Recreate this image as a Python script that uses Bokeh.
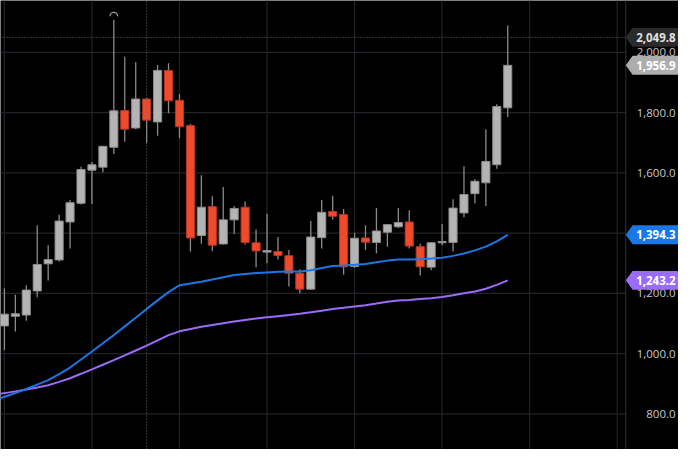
import numpy as np
from bokeh.plotting import figure
from bokeh.models import Range1d, ColumnDataSource
from bokeh.core.properties import value
from bokeh.embed import file_html
from bokeh.resources import INLINE

# ---------------- data ----------------
opens = [1092, 1124, 1128, 1208, 1298, 1311, 1437, 1499, 1609, 1619,
         1685, 1807, 1749, 1845, 1769, 1940, 1841, 1757, 1392, 1488,
         1364, 1444, 1486, 1368, 1337, 1339, 1325, 1267, 1214, 1385,
         1472, 1462, 1289, 1384, 1369, 1403, 1421, 1437, 1355, 1287,
         1368, 1369, 1467, 1531, 1567, 1627, 1816]
highs = [1217, 1195, 1227, 1426, 1360, 1461, 1510, 1620, 1636, 1690,
         2107, 1985, 1967, 1849, 1958, 1964, 1862, 1762, 1592, 1522,
         1553, 1490, 1505, 1412, 1464, 1387, 1344, 1280, 1440, 1510,
         1524, 1480, 1401, 1426, 1483, 1430, 1483, 1476, 1365, 1370,
         1430, 1512, 1622, 1579, 1745, 1828, 2089]
lows = [1012, 1073, 1109, 1187, 1243, 1306, 1349, 1495, 1497, 1602,
        1663, 1703, 1745, 1700, 1723, 1798, 1715, 1339, 1365, 1341,
        1362, 1397, 1362, 1287, 1301, 1312, 1223, 1200, 1212, 1349,
        1445, 1262, 1285, 1344, 1333, 1355, 1417, 1349, 1259, 1277,
        1360, 1339, 1453, 1499, 1490, 1614, 1785]
closes = [1131, 1132, 1211, 1296, 1312, 1440, 1501, 1611, 1627, 1688,
          1806, 1745, 1845, 1775, 1940, 1839, 1753, 1384, 1486, 1360,
          1444, 1482, 1369, 1341, 1342, 1326, 1267, 1214, 1387, 1469,
          1456, 1288, 1383, 1370, 1407, 1428, 1435, 1357, 1288, 1368,
          1372, 1483, 1528, 1572, 1638, 1820, 1956.9]

# moving averages, one value per bar starting one bar before the first visible candle
ma_fast = [844.9, 856.7, 868.9, 882.4, 897.1, 911.9, 932.0, 953.8, 980.4, 1007.1,
           1034.3, 1061.5, 1090.4, 1119.2, 1148.4, 1176.6, 1204.2, 1226.9, 1232.7, 1238.8,
           1246.2, 1253.5, 1261.2, 1264.4, 1267.3, 1269.6, 1271.5, 1272.4, 1272.4, 1276.9,
           1284.0, 1290.7, 1292.6, 1294.9, 1297.8, 1303.2, 1308.7, 1312.2, 1312.2, 1313.5,
           1315.7, 1318.3, 1324.4, 1332.4, 1342.6, 1355.1, 1372.8, 1394.3]
ma_slow = [862.8, 868.9, 874.7, 881.1, 887.8, 894.9, 906.1, 918.3, 933.0, 947.8,
           963.1, 978.5, 994.2, 1010.3, 1026.3, 1044.2, 1061.2, 1074.0, 1081.7, 1089.1,
           1095.2, 1101.0, 1106.7, 1111.5, 1116.3, 1120.8, 1124.4, 1127.9, 1132.1, 1137.2,
           1142.6, 1147.8, 1151.9, 1156.4, 1160.9, 1166.3, 1171.8, 1176.0, 1178.2, 1181.1,
           1184.0, 1187.8, 1193.9, 1200.3, 1206.4, 1215.1, 1228.2, 1243.2]

y_ticks = [800, 1000, 1200, 1400, 1600, 1800, 2000]
y_tick_labels = ["800.0", "1,000.0", "1,200.0", "1,400.0", "1,600.0", "1,800.0", "2,000.0"]
x_grid = [0, 8, 16, 24, 32, 40, 48, 56]
crosshair_bar = 13
crosshair_price = 2049.8

# ---------------- layout (reference pixel geometry) ----------------
REF_W, REF_H = 694, 465
W, H = 678, 449
C0_PX, STEP_PX = 4.0, 11.2          # first candle centre, candle spacing
P_REF, P_REF_PX, PX_PER_UNIT = 2000.0, 53.7, 0.312
PANEL_PX = 640                       # left edge of price-scale panel


def ix(px):
    return (px - C0_PX) / STEP_PX


def pv(py):
    return P_REF - (py - P_REF_PX) / PX_PER_UNIT


def dyp(py):
    return py / PX_PER_UNIT


X0, X1 = ix(0), ix(REF_W)
Y0, Y1 = pv(REF_H), pv(0)
XP = ix(PANEL_PX)

BG = "#000000"
GRID = "#202428"
UP_FILL, UP_LINE = "#b4b4b4", "#8e8e8e"
DN_FILL, DN_LINE = "#f04a2d", "#b53622"
WICK = "#8a8a8a"
FAST = "#1a78e6"
SLOW = "#9b6cfa"
FONT = value("Open Sans")

p = figure(width=W, height=H, x_range=Range1d(X0, X1), y_range=Range1d(Y0, Y1),
           output_backend="svg", toolbar_location=None, x_axis_type=None, y_axis_type=None,
           min_border=0, background_fill_color=BG, border_fill_color=BG,
           outline_line_color=None)
p.xgrid.visible = False if p.xgrid else None
p.ygrid.visible = False if p.ygrid else None

# grid
p.segment(x0=[X0] * len(y_ticks), x1=[XP] * len(y_ticks), y0=y_ticks, y1=y_ticks,
          line_color=GRID, line_width=1.2)
p.segment(x0=x_grid, x1=x_grid, y0=[Y0] * len(x_grid), y1=[Y1] * len(x_grid),
          line_color=GRID, line_width=1.2)

# candles
n = len(opens)
idx = list(range(n))
o = np.array(opens, float)
c = np.array(closes, float)
up = c >= o
src = ColumnDataSource(dict(
    x=idx, high=highs, low=lows,
    top=np.maximum(o, c), bottom=np.minimum(o, c),
    fill=[UP_FILL if u else DN_FILL for u in up],
    line=[UP_LINE if u else DN_LINE for u in up],
))
p.segment(x0="x", x1="x", y0="low", y1="high", source=src, line_color=WICK, line_width=1.3)
p.vbar(x="x", width=0.74, top="top", bottom="bottom", source=src,
       fill_color="fill", line_color="line", line_width=1)

# highest-high marker
imax = int(np.argmax(highs))
p.arc(x=[imax], y=[highs[imax] + dyp(4)], radius=3.8, radius_units="screen",
      start_angle=0, end_angle=np.pi, line_color="#a0a0a0", line_width=1.3)

# moving averages
ma_x = list(range(-1, n))
p.line(ma_x, ma_slow, line_color=SLOW, line_width=2)
p.line(ma_x, ma_fast, line_color=FAST, line_width=2)

# crosshair
p.segment(x0=[crosshair_bar], x1=[crosshair_bar], y0=[Y0], y1=[Y1],
          line_color="#6e6e6e", line_width=1, line_dash="1 2")
p.segment(x0=[X0], x1=[XP], y0=[crosshair_price], y1=[crosshair_price],
          line_color="#6e6e6e", line_width=1, line_dash="1 2")

# price-scale panel border
p.segment(x0=[XP], x1=[XP], y0=[Y0], y1=[Y1], line_color="#262a2e", line_width=1.2)

# price-scale tick labels
p.text(x=[ix(691)] * len(y_ticks), y=y_ticks, text=y_tick_labels,
       text_font=FONT, text_font_size=value("11.5px"), text_color="#c8c8c8",
       text_align=value("right"), text_baseline=value("middle"))

# price tags
tags = [
    (crosshair_price, "#2b2b2b", "#e0e0e0"),
    (closes[-1], "#adadad", "#ffffff"),
    (ma_fast[-1], FAST, "#ffffff"),
    (ma_slow[-1], SLOW, "#ffffff"),
]
hh = dyp(9.8)
xs, ys = [], []
for v, _, _ in tags:
    xs.append([ix(PANEL_PX), ix(PANEL_PX + 7), ix(REF_W + 6), ix(REF_W + 6), ix(PANEL_PX + 7)])
    ys.append([v, v + hh, v + hh, v - hh, v - hh])
p.patches(xs, ys, fill_color=[t[1] for t in tags], line_color=None)
p.text(x=[ix(691)] * len(tags), y=[t[0] for t in tags],
       text=[f"{t[0]:,.1f}" for t in tags],
       text_font=FONT, text_font_size=value("11.5px"), text_font_style=value("bold"),
       text_color=[t[2] for t in tags],
       text_align=value("right"), text_baseline=value("middle"))

open("out.html", "w").write(file_html(p, INLINE))
